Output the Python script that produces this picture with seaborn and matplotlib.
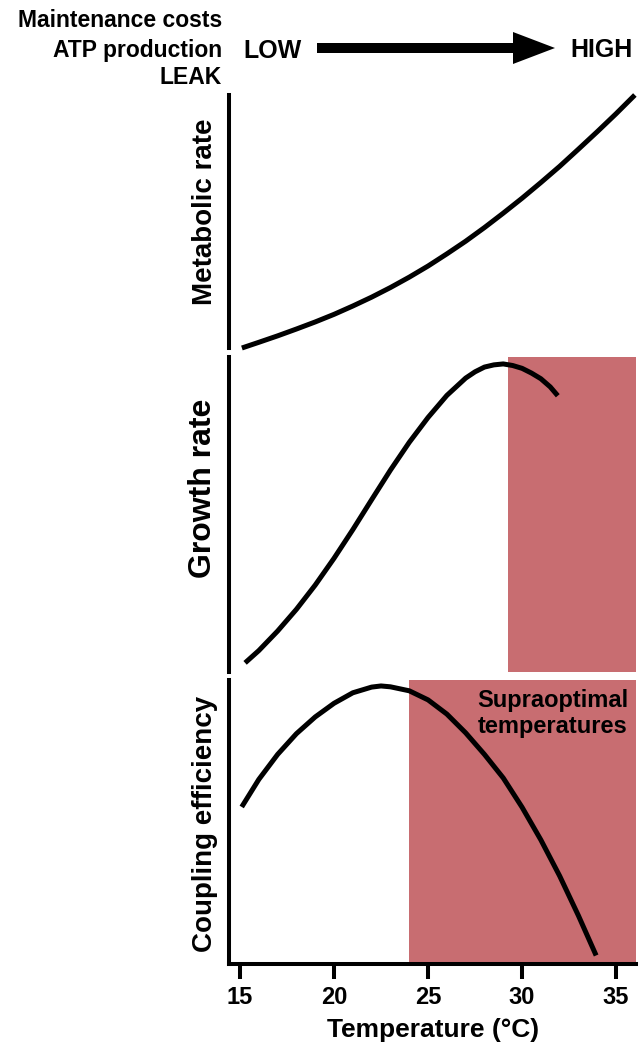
import matplotlib
matplotlib.use("Agg")
import matplotlib.pyplot as plt
import seaborn as sns
import pandas as pd
from matplotlib.patches import FancyArrow

# ---------------- data ----------------
temp_metabolic = [15.1, 16, 17, 18, 19, 20, 21, 22, 23, 24, 25, 26, 27, 28, 29,
                  30, 31, 32, 33, 34, 35, 36]
metabolic_rate = [0.0, 0.0225, 0.048, 0.075, 0.103, 0.133, 0.166, 0.201, 0.239,
                  0.280, 0.324, 0.372, 0.422, 0.476, 0.533, 0.592, 0.654, 0.718,
                  0.786, 0.855, 0.926, 1.0]

temp_growth = [15.27, 16, 17, 18, 19, 20, 21, 22, 23, 24, 25, 26, 27, 27.5, 28,
               28.5, 29, 29.5, 30, 30.5, 31, 31.5, 31.9]
growth_rate = [0.029, 0.068, 0.130, 0.199, 0.276, 0.361, 0.452, 0.547, 0.641,
               0.729, 0.808, 0.878, 0.933, 0.953, 0.968, 0.975, 0.978, 0.973,
               0.964, 0.949, 0.931, 0.905, 0.877]

temp_coupling = [15.09, 16, 17, 18, 19, 20, 21, 22, 22.5, 23, 24, 25, 26, 27, 28,
                 29, 30, 31, 32, 33, 33.94]
coupling_eff = [0.553, 0.650, 0.738, 0.811, 0.870, 0.918, 0.955, 0.975, 0.979,
                0.976, 0.962, 0.930, 0.880, 0.814, 0.738, 0.655, 0.552, 0.437,
                0.310, 0.170, 0.030]

supra_growth = (29.26, 36.05)
supra_coupling = (24.0, 36.05)
x_ticks = [15, 20, 25, 30, 35]
x_range = (14.43, 36.06)

panel_labels = ["Metabolic rate", "Growth rate", "Coupling efficiency"]
header_lines = ["Maintenance costs", "ATP production", "LEAK"]

# ---------------- style ----------------
sns.set_style("ticks")
plt.rcParams["font.family"] = ["Liberation Sans", "DejaVu Sans"]
plt.rcParams["font.weight"] = "bold"
plt.rcParams.update({"text.color": "black", "axes.labelcolor": "black",
                     "xtick.color": "black", "ytick.color": "black"})

RED = "#C86D71"
LW_CURVE = 3.6
LW_SPINE = 2.9

fig = plt.figure(figsize=(6.39, 10.48), dpi=100)
W, H = 639.0, 1048.0


def axes_px(left, top, right, bottom):
    return fig.add_axes([left / W, 1 - bottom / H, (right - left) / W, (bottom - top) / H])


ax1 = axes_px(229.3, 95, 636, 348)
ax2 = axes_px(229.3, 357, 636, 672)
ax3 = axes_px(229.3, 680, 636, 964)

df1 = pd.DataFrame({"T": temp_metabolic, "v": metabolic_rate})
df2 = pd.DataFrame({"T": temp_growth, "v": growth_rate})
df3 = pd.DataFrame({"T": temp_coupling, "v": coupling_eff})

ax2.axvspan(*supra_growth, color=RED, lw=0, zorder=0)
ax3.axvspan(*supra_coupling, color=RED, lw=0, zorder=0)

for ax, df in [(ax1, df1), (ax2, df2), (ax3, df3)]:
    sns.lineplot(data=df, x="T", y="v", ax=ax, color="black", linewidth=LW_CURVE,
                 sort=False, clip_on=False, solid_capstyle="butt",
                 solid_joinstyle="round", zorder=3)
    ax.set_xlim(*x_range)
    ax.set_ylim(0, 1)
    ax.set_yticks([])
    for s in ["top", "right"]:
        ax.spines[s].set_visible(False)
    ax.spines["left"].set_linewidth(LW_SPINE)
    ax.spines["left"].set_color("black")
    ax.set_facecolor("none")

for ax in (ax1, ax2):
    ax.spines["bottom"].set_visible(False)
    ax.set_xticks([])
    ax.set_xlabel("")

ax3.spines["bottom"].set_linewidth(LW_SPINE)
ax3.spines["bottom"].set_color("black")
ax3.set_xticks(x_ticks)
ax3.set_xticklabels([str(t) for t in x_ticks])
ax3.tick_params(axis="x", length=11, width=LW_SPINE, labelsize=17, pad=5,
                colors="black")
for lab in ax3.get_xticklabels():
    lab.set_fontweight("bold")
ax3.set_xlabel("Temperature (°C)", fontsize=19, fontweight="bold", labelpad=6,
               color="black")

label_y = [0.5375, 0.584, 0.493]
label_size = [20, 23, 20]
for ax, txt, yy, fs in zip((ax1, ax2, ax3), panel_labels, label_y, label_size):
    ax.set_ylabel(txt, fontsize=fs, fontweight="bold", color="black")
    ax.yaxis.set_label_coords(-0.028, yy)

ax3.text(31.65, 0.883, "Supraoptimal\ntemperatures", ha="center", va="center",
         fontsize=17, fontweight="bold", linespacing=1.15, zorder=4, color="black")

# header
baselines = [27, 57, 84]
for txt, b in zip(header_lines, baselines):
    fig.text(222 / W, 1 - b / H, txt, ha="right", va="baseline", fontsize=16.5,
             fontweight="bold", color="black")
fig.text(243 / W, 1 - 51 / H, "LOW", ha="left", va="center", fontsize=18,
         fontweight="bold", color="black")
fig.text(633 / W, 1 - 50 / H, "HIGH", ha="right", va="center", fontsize=18,
         fontweight="bold", color="black")
arrow = FancyArrow(3.17, (H - 48) / 100, 2.38, 0, width=0.10, head_width=0.32,
                   head_length=0.42, length_includes_head=True, color="black",
                   lw=0, transform=fig.dpi_scale_trans)
fig.patches.append(arrow)

fig.savefig("out.png", dpi=100)
